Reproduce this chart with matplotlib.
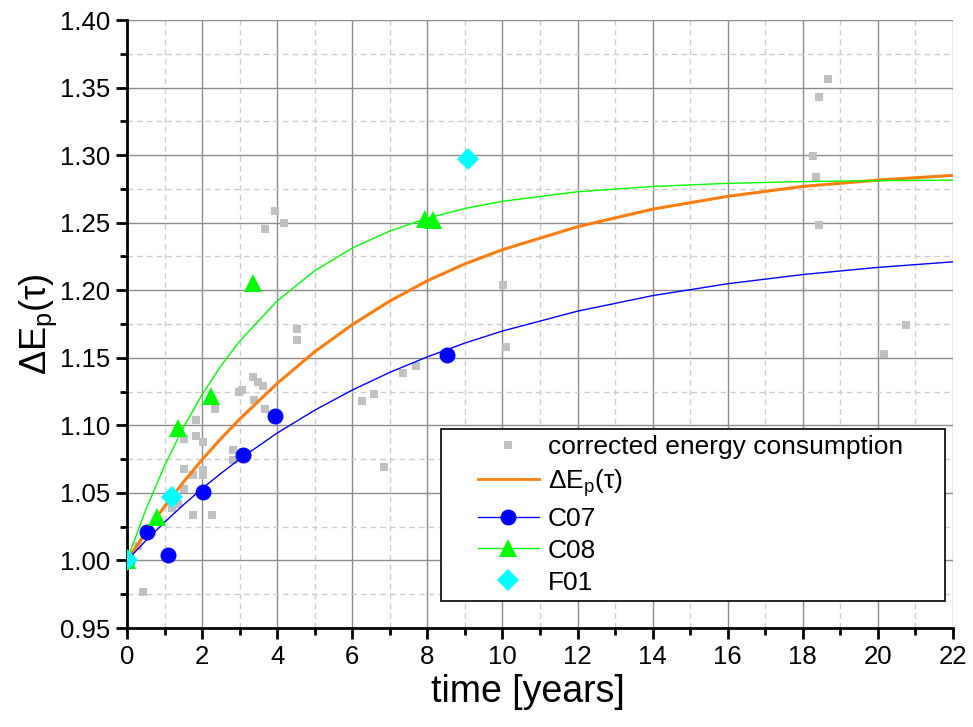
import numpy as np
import matplotlib.pyplot as plt
from matplotlib.lines import Line2D
from matplotlib.legend_handler import HandlerLine2D
from matplotlib.ticker import MultipleLocator

plt.rcParams['font.family'] = ['Liberation Sans', 'DejaVu Sans']
plt.rcParams['mathtext.fontset'] = 'custom'
plt.rcParams['mathtext.rm'] = 'Liberation Sans'
plt.rcParams['mathtext.it'] = 'Liberation Sans:italic'

# corrected energy consumption (grey squares)
corr_t = [0.29, 0.43, 1.19, 1.37, 1.52, 1.52, 1.52, 1.76, 1.77, 1.85, 1.85, 2.03, 2.03,
          2.03, 2.27, 2.34, 2.83, 2.83, 2.97, 3.05, 3.35, 3.37, 3.50, 3.63, 3.67, 3.68,
          3.94, 4.18, 4.52, 4.52, 6.27, 6.59, 6.84, 7.34, 7.69, 10.02, 10.09, 18.26,
          18.34, 18.42, 18.42, 18.68, 20.17, 20.76]
corr_e = [1.011, 0.977, 1.039, 1.042, 1.053, 1.068, 1.090, 1.034, 1.063, 1.092, 1.104, 1.063,
          1.067, 1.088, 1.034, 1.112, 1.074, 1.082, 1.125, 1.126, 1.136, 1.119, 1.132, 1.129,
          1.112, 1.245, 1.259, 1.250, 1.171, 1.163, 1.118, 1.123, 1.069, 1.139, 1.144, 1.204,
          1.158, 1.299, 1.284, 1.248, 1.343, 1.356, 1.153, 1.174]

# measured buildings
c07_t = [0.0, 0.52, 1.10, 2.03, 3.10, 3.94, 8.51]
c07_e = [1.000, 1.021, 1.004, 1.051, 1.078, 1.107, 1.152]
c08_t = [0.0, 0.79, 1.35, 2.25, 3.35, 7.94, 8.16]
c08_e = [1.000, 1.032, 1.098, 1.122, 1.205, 1.253, 1.252]
f01_t = [0.0, 1.19, 9.09]
f01_e = [1.000, 1.047, 1.297]

# curves
curve_t = [0, 0.5, 1, 1.5, 2, 2.5, 3, 4, 5, 6, 7, 8, 9, 10, 12, 14, 16, 18, 20, 22]
dep_e = [1.0, 1.0207, 1.0399, 1.0579, 1.0746, 1.0901, 1.1046, 1.1310, 1.1545, 1.1745,
         1.1920, 1.2070, 1.2195, 1.2300, 1.2470, 1.2600, 1.2695, 1.2768, 1.2815, 1.2850]
c07_fit = [1.0, 1.0146, 1.0283, 1.0411, 1.0532, 1.0644, 1.0750, 1.0943, 1.1112, 1.1261,
           1.1392, 1.1507, 1.1609, 1.1698, 1.1845, 1.1960, 1.2048, 1.2116, 1.2169, 1.2210]
c08_fit = [1.0, 1.0375, 1.0701, 1.0983, 1.1228, 1.1440, 1.1623, 1.1921, 1.2144, 1.2312,
           1.2438, 1.2533, 1.2605, 1.2658, 1.2729, 1.2768, 1.2791, 1.2804, 1.2811, 1.2815]

grey = '#c0c0c0'
orange = '#fa7d12'
blue = '#0000ff'
green = '#00ff00'
cyan = '#00ffff'

fig = plt.figure(figsize=(9.73, 7.27), dpi=100)
ax = fig.add_axes([127/973, 1 - 628/727, 826/973, 608/727])

ax.plot(corr_t, corr_e, 's', color=grey, ms=6, mew=0, zorder=2)
ax.plot(curve_t, dep_e, '-', color=orange, lw=2.2, zorder=3)
ax.plot(curve_t, c07_fit, '-', color=blue, lw=1, zorder=3)
ax.plot(curve_t, c08_fit, '-', color=green, lw=1, zorder=3)
ax.plot(c07_t, c07_e, 'o', color=blue, ms=11.5, mew=0, zorder=4)
ax.plot(c08_t, c08_e, '^', color=green, ms=13, mew=0, zorder=4)
ax.plot(f01_t, f01_e, 'D', color=cyan, ms=11, mew=0, zorder=5)

ax.set_xlim(0, 22)
ax.set_ylim(0.95, 1.40)
ax.xaxis.set_major_locator(MultipleLocator(2))
ax.xaxis.set_minor_locator(MultipleLocator(1))
ax.yaxis.set_major_locator(MultipleLocator(0.05))
ax.yaxis.set_minor_locator(MultipleLocator(0.025))
ax.yaxis.set_major_formatter(plt.FuncFormatter(lambda v, p: f'{v:.2f}'))

ax.grid(which='major', color='#8c8c8c', lw=1, ls='-')
ax.grid(which='minor', color='#cccccc', lw=1, ls=(0, (4, 3)))
ax.set_axisbelow(True)

for s in ['top', 'right']:
    ax.spines[s].set_visible(False)
for s in ['left', 'bottom']:
    ax.spines[s].set_linewidth(2)
ax.tick_params(which='major', direction='out', length=8, width=2, labelsize=18.5, pad=4)
ax.tick_params(which='minor', direction='out', length=5, width=2)

ax.set_xlabel('time [years]', fontsize=27, labelpad=4, x=0.485)
ax.set_ylabel('ΔE$_\\mathrm{p}$(τ)', fontsize=26, labelpad=1)

handles = [
    Line2D([], [], ls='none', marker='s', color=grey, ms=6, mew=0),
    Line2D([], [], color=orange, lw=2),
    Line2D([], [], color=blue, lw=1, marker='o', ms=11.5, mew=0),
    Line2D([], [], color=green, lw=1, marker='^', ms=13, mew=0),
    Line2D([], [], ls='none', marker='D', color=cyan, ms=11, mew=0),
]
labels = ['corrected energy consumption', 'ΔE$_\\mathrm{p}$(τ)', 'C07', 'C08', 'F01']
leg = ax.legend(handles, labels, loc='lower left', bbox_to_anchor=(0.380, 0.044, 0.6106, 0.2845),
                mode='expand', fontsize=19, frameon=True, fancybox=False, edgecolor='black',
                framealpha=1, borderpad=0.25, labelspacing=0.3, handlelength=3.45,
                handletextpad=0.35, borderaxespad=0,
                handler_map={Line2D: HandlerLine2D(xpad=1.15)})
leg.get_frame().set_linewidth(1.2)
leg.set_zorder(10)

fig.savefig('out.png', dpi=100)
